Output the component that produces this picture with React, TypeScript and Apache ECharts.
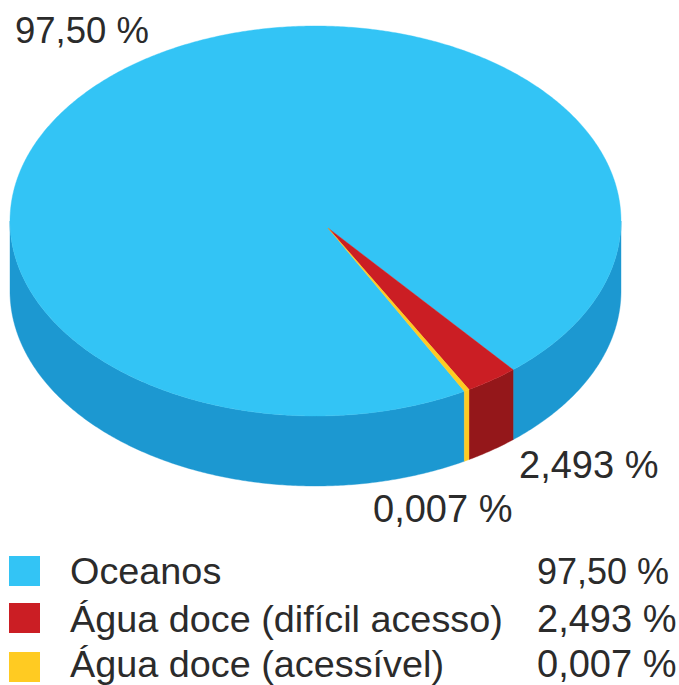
import React, { useEffect, useRef } from "react";
import * as echarts from "echarts";

const categories = ["Oceanos", "Água doce (difícil acesso)", "Água doce (acessível)"];
const values = [97.5, 2.493, 0.007];
const valueLabels = ["97,50 %", "2,493 %", "0,007 %"];
const topColors = ["#33C4F5", "#CB1E24", "#FFCB22"];
const wallColors = ["#1C98D1", "#94171A", "#FFCB22"];

const CX = 315.5, CY = 221, RX = 305.5, RY = 195, DEPTH = 70;
const APEX_X = 328, APEX_Y = 228;
const FIRST_SMALL_EDGE = 49.7; // where the red wedge begins, degrees clockwise from 3 o'clock
const SMALL_SCALE = 1.13; // the reference drawing widens the freshwater wedge
const MIN_SWEEP = 1.0; // keeps the 0,007 % sliver visible

const TEXT = "#2b2b2b";
const FONT = '"Liberation Sans", Arial, sans-serif';

function spans(): [number, number][] {
  const total = values.reduce((a, b) => a + b, 0);
  const sweeps = values.map((v) => Math.max((v / total) * 360 * SMALL_SCALE, MIN_SWEEP));
  const redStart = FIRST_SMALL_EDGE;
  const redEnd = redStart + sweeps[1];
  const yellowEnd = redEnd + sweeps[2];
  return [
    [yellowEnd - 360, redStart],
    [redStart, redEnd],
    [redEnd, yellowEnd],
  ];
}

function rim(deg: number, dy = 0): number[] {
  const a = (deg * Math.PI) / 180;
  return [CX + RX * Math.cos(a), CY + RY * Math.sin(a) + dy];
}

function arc(a: number, b: number, dy = 0): number[][] {
  const n = Math.max(2, Math.ceil((b - a) / 0.5));
  const pts: number[][] = [];
  for (let i = 0; i <= n; i++) pts.push(rim(a + ((b - a) * i) / n, dy));
  return pts;
}

function renderSlice(params: any) {
  const i = params.dataIndex;
  const [a, b] = spans()[i];
  const children: any[] = [];
  for (const k of [-360, 0, 360]) {
    const lo = Math.max(a, k);
    const hi = Math.min(b, k + 180);
    if (hi > lo) {
      children.push({
        type: "polygon",
        shape: { points: [...arc(lo, hi), ...arc(lo, hi, DEPTH).reverse()] },
        style: { fill: wallColors[i], stroke: wallColors[i], lineWidth: 0.4 },
      });
    }
  }
  children.push({
    type: "polygon",
    shape: { points: [[APEX_X, APEX_Y], ...arc(a, b)] },
    style: { fill: topColors[i], stroke: topColors[i], lineWidth: 0.4 },
  });
  return { type: "group", children };
}

function label(text: string, x: number, y: number, size: number) {
  return {
    type: "text",
    x,
    y,
    style: { text, fill: TEXT, font: `${size}px ${FONT}`, textVerticalAlign: "middle" },
  };
}

const legendTextY = [571, 619, 664];
const legendSwatchY = [571, 618, 667];
const legendValueSize = [36, 38, 38];

export default function App() {
  const ref = useRef<HTMLDivElement>(null);
  useEffect(() => {
    document.body.style.margin = "0";
    const chart = echarts.init(ref.current!, undefined, { renderer: "svg" });
    chart.setOption({
      animation: false,
      backgroundColor: "#ffffff",
      series: [
        {
          type: "custom",
          coordinateSystem: "none",
          silent: true,
          data: values.map((v, i) => ({ name: categories[i], value: v })),
          renderItem: renderSlice,
        },
      ],
      graphic: [
        label(valueLabels[0], 15, 30, 36.5),
        label(valueLabels[1], 519, 465, 38),
        label(valueLabels[2], 373, 509, 38),
        ...categories.flatMap((c, i) => [
          {
            type: "rect",
            shape: { x: 9, y: legendSwatchY[i] - 15, width: 31, height: 30 },
            style: { fill: topColors[i] },
          },
          label(c, 70, legendTextY[i], 37.8),
          label(valueLabels[i], 537, legendTextY[i], legendValueSize[i]),
        ]),
      ],
    });
    return () => chart.dispose();
  }, []);
  return <div ref={ref} style={{ position: "absolute", left: 0, top: 0, width: 679, height: 685 }} />;
}
